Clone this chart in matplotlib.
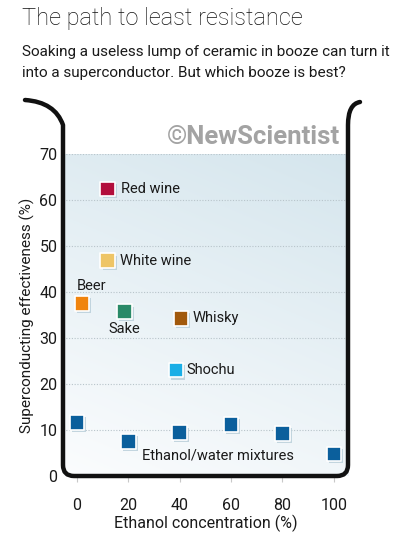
import numpy as np
import matplotlib.pyplot as plt
import matplotlib.patheffects as pe
from matplotlib.path import Path
from matplotlib.patches import PathPatch
from matplotlib.transforms import Affine2D

# data
drinks = ["Red wine", "White wine", "Beer", "Sake", "Whisky", "Shochu"]
drink_x = [12, 12, 2, 18.5, 40.5, 38.5]
drink_y = [62.4, 46.8, 37.5, 35.7, 34.3, 23.0]
drink_colors = ["#b20e3c", "#eec566", "#f0840e", "#2a8a68", "#a2590c", "#1aaee6"]
mix_x = [0, 20, 40, 60, 80, 100]
mix_y = [11.6, 7.5, 9.4, 11.2, 9.2, 4.8]
mix_color = "#0b5f9c"
xticks = [0, 20, 40, 60, 80, 100]
yticks = [0, 10, 20, 30, 40, 50, 60, 70]

W, H = 419, 538
fig = plt.figure(figsize=(W / 100, H / 100), dpi=100)
plt.rcParams['font.family'] = ['Roboto', 'DejaVu Sans']

# pixel transform (origin top-left)
px = Affine2D().scale(1 / W, -1 / H).translate(0, 1) + fig.transFigure

ax = fig.add_axes([63 / W, (H - 476) / H, (348 - 63) / W, (476 - 154) / H])
ax.set_xlim(-5.4, 105.5)
ax.set_ylim(0, 70)

# gradient background
gx, gy = np.meshgrid(np.linspace(0, 1, 200), np.linspace(0, 1, 200))
t = (0.3 * gx + 0.8 * gy) / 1.1
c0 = np.array([0.985, 0.99, 0.995])
c1 = np.array([0.835, 0.90, 0.93])
img = c0 + (c1 - c0) * t[..., None]
ax.imshow(img, extent=[-5.4, 105.5, 0, 70], origin='lower', aspect='auto', zorder=0)

for v in yticks[1:]:
    ax.axhline(v, color="#b8c4ca", lw=0.8, ls=(0, (1, 1.5)), zorder=1)

for s in ax.spines.values():
    s.set_visible(False)

ax.set_xticks(xticks)
ax.set_yticks(yticks)
ax.tick_params(axis='x', length=4, width=0.8, color="#c8c8c8", pad=12, labelsize=11.5, labelcolor="#1a1a1a")
ax.tick_params(axis='y', length=0, pad=4, labelsize=11.5, labelcolor="#1a1a1a")
ax.set_xlabel("Ethanol concentration (%)", fontsize=11.5, color="#1a1a1a", labelpad=1)
ax.set_ylabel("Superconducting effectiveness (%)", fontsize=11, color="#1a1a1a", labelpad=3)

shadow = [pe.SimplePatchShadow(offset=(1.5, -1.5), shadow_rgbFace="#b7cdd8", alpha=0.8), pe.Normal()]
ax.scatter(mix_x, mix_y, marker='s', s=110, c=mix_color, edgecolors='white', linewidths=1.2,
           zorder=4, clip_on=False, path_effects=shadow)
ax.scatter(drink_x, drink_y, marker='s', s=110, c=drink_colors, edgecolors='white', linewidths=1.2,
           zorder=4, clip_on=False, path_effects=shadow)

# label offsets in pixels (positive dy is up)
offsets = {
    "Red wine": (13, 0, 'left'),
    "White wine": (12, 0, 'left'),
    "Beer": (-5, 17, 'left'),
    "Sake": (0, -17, 'center'),
    "Whisky": (12, 0, 'left'),
    "Shochu": (11, 0, 'left'),
}
for name, x, y in zip(drinks, drink_x, drink_y):
    dx, dy, ha = offsets[name]
    ax.annotate(name, (x, y), xytext=(dx, dy), textcoords='offset pixels', ha=ha, va='center',
                fontsize=10.5, color="#1a1a1a", zorder=5)
ax.annotate("Ethanol/water mixtures", (mix_x[2], mix_y[2]), xytext=(-38, -23), textcoords='offset pixels',
            ha='left', va='center', fontsize=10.5, color="#1a1a1a", zorder=5)

# beaker outline
r = 11
verts = [(25, 100), (55, 102), (63, 125), (63, 155), (63, 476 - r), (63, 476), (63 + r, 476),
         (348 - r, 476), (348, 476), (348, 476 - r), (348, 125), (348, 104), (360, 102)]
codes = [Path.MOVETO, Path.CURVE3, Path.CURVE3, Path.LINETO, Path.LINETO, Path.CURVE3, Path.CURVE3,
         Path.LINETO, Path.CURVE3, Path.CURVE3, Path.LINETO, Path.CURVE3, Path.CURVE3]
beaker = PathPatch(Path(verts, codes), transform=px, fill=False, lw=3.2, ec="#111111",
                   capstyle='round', joinstyle='round')
fig.add_artist(beaker)

fig.text(22 / W, 1 - 19 / H, "The path to least resistance", fontsize=17, fontweight='light',
         color="#111111", va='center')
fig.text(22 / W, 1 - 52 / H, "Soaking a useless lump of ceramic in booze can turn it", fontsize=11,
         color="#1a1a1a", va='center')
fig.text(22 / W, 1 - 73 / H, "into a superconductor. But which booze is best?", fontsize=11,
         color="#1a1a1a", va='center')
fig.text(340 / W, 1 - 137 / H, "\u00a9NewScientist", fontsize=18.5, fontweight='bold',
         color="#a3a3a3", ha='right', va='center')

fig.savefig("out.png", dpi=100)
